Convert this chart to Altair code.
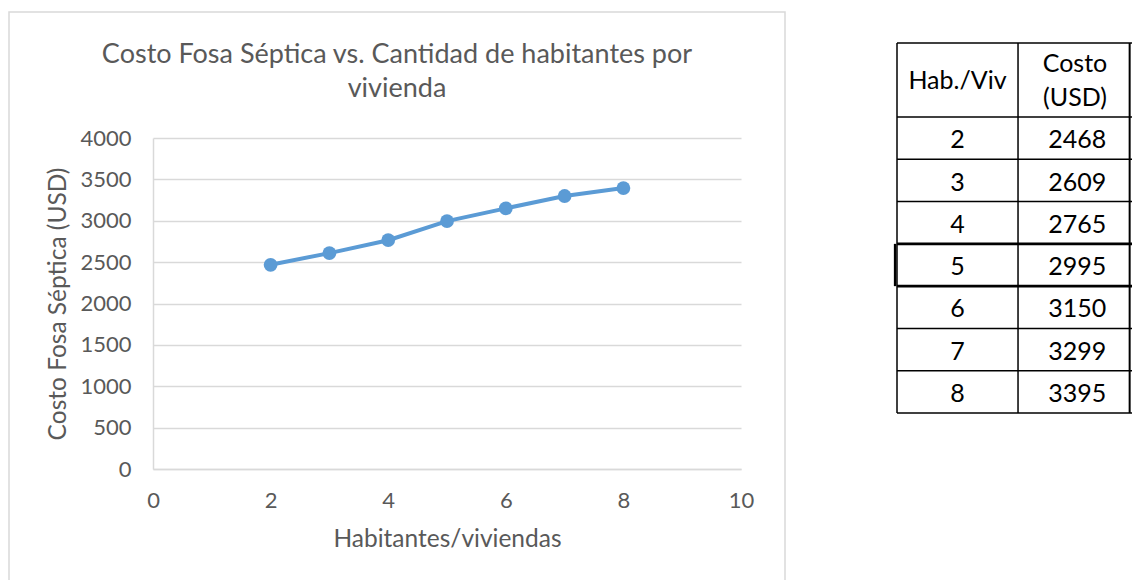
import altair as alt
import pandas as pd

# Cost of a septic tank by number of inhabitants per dwelling
habitantes = [2, 3, 4, 5, 6, 7, 8]
costo = [2468, 2609, 2765, 2995, 3150, 3299, 3395]

x_ticks = [0, 2, 4, 6, 8, 10]
y_ticks = [0, 500, 1000, 1500, 2000, 2500, 3000, 3500, 4000]

title_lines = ["Costo Fosa Séptica vs. Cantidad de habitantes por", "vivienda"]
x_title = "Habitantes/viviendas"
y_title = "Costo Fosa Séptica (USD)"
header_col1 = "Hab./Viv"
header_col2 = ["Costo", "(USD)"]

FONT = "Lato"
GRAY = "#595959"
GRID = "#d9d9d9"
BLUE = "#5b9bd5"

PLOT_W, PLOT_H = 588, 331

df = pd.DataFrame({"hab": habitantes, "costo": costo})

# ---- scatter line ----
series = alt.Chart(df).mark_line(
    color=BLUE, strokeWidth=4,
    point=alt.OverlayMarkDef(color=BLUE, size=190, filled=True, opacity=1),
).encode(
    x=alt.X("hab:Q",
            scale=alt.Scale(domain=[0, 10], nice=False),
            axis=alt.Axis(values=x_ticks, title=x_title, grid=False, ticks=False,
                          labelFlush=False, format="d",
                          domain=True, domainColor=GRID, domainWidth=1.5,
                          labelPadding=21, titlePadding=16)),
    y=alt.Y("costo:Q",
            scale=alt.Scale(domain=[0, 4000], nice=False),
            axis=alt.Axis(values=y_ticks, title=y_title, grid=True, gridColor=GRID,
                          gridWidth=1.5, ticks=False, domain=True, domainColor=GRID,
                          labelFlush=False, format="d",
                          domainWidth=1.5, labelPadding=22, titlePadding=9)),
)

# ---- chart title drawn as text ----
title = alt.Chart(pd.DataFrame({"k": [0]})).mark_text(
    font=FONT, fontSize=27, color=GRAY, align="center", baseline="alphabetic",
    lineHeight=34,
).encode(
    x=alt.value(244), y=alt.value(-75), text=alt.value(title_lines)
)

# ---- outer chart frame ----
frame = alt.Chart(pd.DataFrame({"k": [0]})).mark_rect(
    fill=None, stroke=GRID, strokeWidth=1.5
).encode(
    x=alt.value(-144), x2=alt.value(632), y=alt.value(-126), y2=alt.value(450)
)

# ---- data table on the right ----
HEADER_ROWS = 1.75
n = len(habitantes)
tx = alt.Scale(domain=[0, 1], range=[744, 979], nice=False, zero=False)
ty = alt.Scale(domain=[0, HEADER_ROWS + n], range=[-95, 275], nice=False, zero=False)
COL_SPLIT = 0.515
COL1_MID = COL_SPLIT / 2
COL2_MID = (COL_SPLIT + 1) / 2

hlines = pd.DataFrame({
    "y": [0] + [HEADER_ROWS + i for i in range(n + 1)],
    "x0": 0.0, "x1": 1.0,
})
hlines["w"] = [1.5] + [2.8 if i in (3, 4) else 1.5 for i in range(n + 1)]
vlines = pd.DataFrame({
    "x": [0.0, COL_SPLIT, 0.99, -0.008],
    "y0": [0, 0, 0, HEADER_ROWS + 3],
    "y1": [HEADER_ROWS + n] * 3 + [HEADER_ROWS + 4],
    "w": [1.5, 1.5, 2, 2.5],
})

h_rules = alt.Chart(hlines).mark_rule(color="black").encode(
    x=alt.X("x0:Q", scale=tx, axis=None), x2="x1:Q",
    y=alt.Y("y:Q", scale=ty, axis=None),
    strokeWidth=alt.StrokeWidth("w:Q", scale=None),
)
v_rules = alt.Chart(vlines).mark_rule(color="black").encode(
    x=alt.X("x:Q", scale=tx, axis=None),
    y=alt.Y("y0:Q", scale=ty, axis=None), y2="y1:Q",
    strokeWidth=alt.StrokeWidth("w:Q", scale=None),
)

cells = pd.DataFrame({
    "hab": [str(h) for h in habitantes],
    "costo": [str(c) for c in costo],
    "row": [HEADER_ROWS + i + 0.55 for i in range(n)],
})
col1 = alt.Chart(cells).mark_text(font=FONT, fontSize=25, color="black", baseline="middle").encode(
    x=alt.X("c:Q", scale=tx, axis=None),
    y=alt.Y("row:Q", scale=ty, axis=None),
    text="hab:N",
).transform_calculate(c=str(COL1_MID))
col2 = alt.Chart(cells).mark_text(font=FONT, fontSize=25, color="black", baseline="middle").encode(
    x=alt.X("c:Q", scale=tx, axis=None),
    y=alt.Y("row:Q", scale=ty, axis=None),
    text="costo:N",
).transform_calculate(c=str(COL2_MID + 0.01))

header = pd.DataFrame({
    "t": [header_col1] + header_col2,
    "x": [COL1_MID, COL2_MID, COL2_MID],
    "y": [0.9, 0.5, 1.3],
})
head = alt.Chart(header).mark_text(font=FONT, fontSize=25, color="black", baseline="middle").encode(
    x=alt.X("x:Q", scale=tx, axis=None),
    y=alt.Y("y:Q", scale=ty, axis=None),
    text="t:N",
)

chart = alt.layer(
    frame, series, title, h_rules, v_rules, col1, col2, head
).resolve_scale(
    x="independent", y="independent"
).properties(
    width=PLOT_W, height=PLOT_H,
    autosize=alt.AutoSizeParams(type="none"),
    padding={"left": 153, "top": 138, "right": 391, "bottom": 111},
    background="white",
).configure_view(
    stroke=None
).configure_axis(
    labelFont=FONT, labelFontSize=22, labelColor=GRAY,
    titleFont=FONT, titleFontSize=24.5, titleColor=GRAY, titleFontWeight="normal",
)

chart.save("out.html", embed_options={"renderer": "svg", "actions": False})
